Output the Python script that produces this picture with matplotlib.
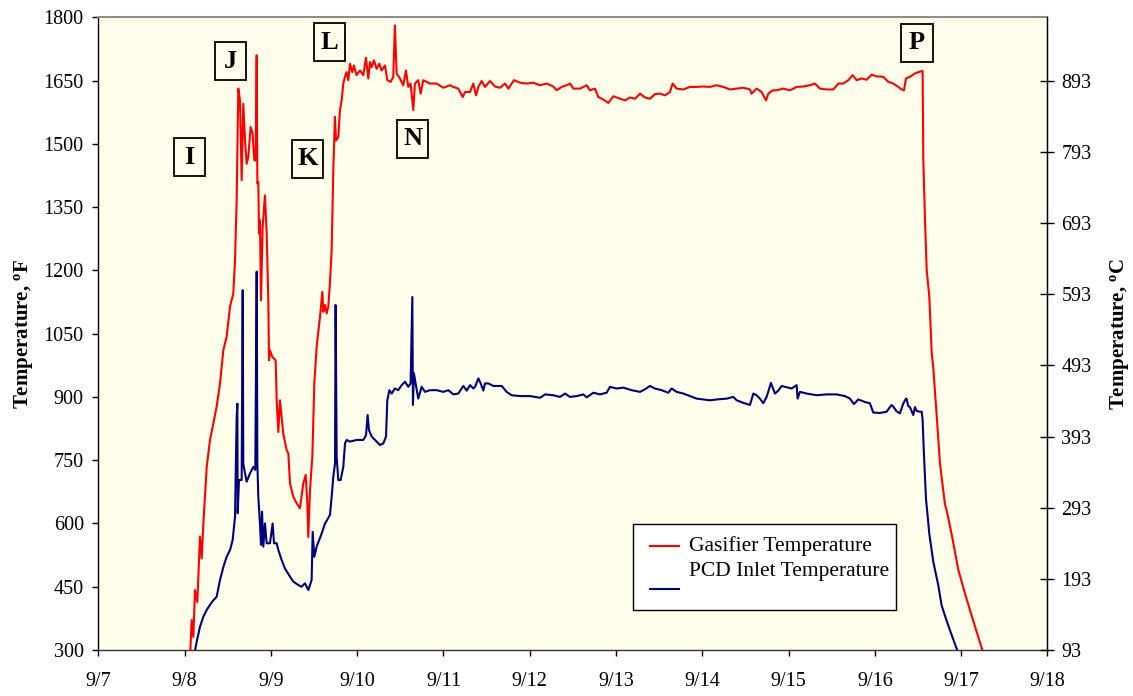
import matplotlib
matplotlib.use("Agg")
import matplotlib.pyplot as plt
from matplotlib.patches import Rectangle
from matplotlib.lines import Line2D

plt.rcParams['font.family'] = ['Liberation Serif', 'DejaVu Serif']
plt.rcParams['mathtext.fontset'] = 'custom'
plt.rcParams['mathtext.rm'] = 'Liberation Serif'
plt.rcParams['mathtext.bf'] = 'Liberation Serif:bold'
plt.rcParams['mathtext.it'] = 'Liberation Serif:italic'

# ---- data: day of September (decimal) and temperature in deg F ----
gasifier_day = [
    8.065, 8.082, 8.101, 8.120, 8.147, 8.178, 8.198, 8.217, 8.256, 8.294, 8.333,
    8.371, 8.410, 8.449, 8.487, 8.526, 8.564, 8.584, 8.603, 8.622, 8.642, 8.661,
    8.680, 8.700, 8.719, 8.738, 8.765, 8.788, 8.808, 8.823, 8.835, 8.843, 8.854,
    8.862, 8.873, 8.885, 8.904, 8.931, 8.951, 8.970, 8.978, 8.989, 9.016, 9.055,
    9.067, 9.086, 9.105, 9.143, 9.182, 9.202, 9.221, 9.260, 9.298, 9.337, 9.375,
    9.403, 9.422, 9.433, 9.453, 9.480, 9.503, 9.530, 9.569, 9.596, 9.607, 9.627,
    9.646, 9.665, 9.684, 9.704, 9.723, 9.742, 9.754, 9.781, 9.800, 9.820, 9.839,
    9.858, 9.877, 9.897, 9.916, 9.943, 9.962, 9.993, 10.032, 10.071, 10.102,
    10.129, 10.148, 10.167, 10.194, 10.225, 10.256, 10.283, 10.322, 10.349,
    10.388, 10.418, 10.437, 10.457, 10.495, 10.534, 10.565, 10.592, 10.619,
    10.650, 10.669, 10.708, 10.735, 10.766, 10.843, 10.921, 10.998, 11.075,
    11.114, 11.172, 11.223, 11.250, 11.308, 11.346, 11.377, 11.404, 11.443,
    11.481, 11.539, 11.597, 11.655, 11.713, 11.752, 11.817, 11.887, 11.964,
    12.041, 12.119, 12.196, 12.273, 12.312, 12.370, 12.428, 12.466, 12.505,
    12.582, 12.660, 12.698, 12.756, 12.795, 12.853, 12.911, 12.969, 13.046,
    13.104, 13.162, 13.220, 13.278, 13.335, 13.393, 13.451, 13.509, 13.567,
    13.625, 13.656, 13.702, 13.780, 13.857, 13.934, 14.011, 14.089, 14.166,
    14.243, 14.320, 14.398, 14.475, 14.552, 14.571, 14.629, 14.687, 14.738,
    14.765, 14.815, 14.861, 14.938, 15.016, 15.093, 15.170, 15.247, 15.305,
    15.363, 15.441, 15.518, 15.576, 15.634, 15.692, 15.742, 15.788, 15.846,
    15.904, 15.962, 16.020, 16.097, 16.155, 16.213, 16.271, 16.309, 16.337,
    16.360, 16.406, 16.464, 16.503, 16.553, 16.561, 16.580, 16.600, 16.631,
    16.658, 16.677, 16.716, 16.754, 16.812, 16.832, 16.889, 16.967, 17.044,
    17.140, 17.250,
]
gasifier_temp = [
    295, 371, 331, 442, 414, 569, 517, 600, 734, 798, 837,
    877, 932, 1011, 1043, 1114, 1145, 1224, 1366, 1631, 1603, 1414,
    1595, 1508, 1453, 1469, 1540, 1524, 1461, 1461, 1710, 1406, 1410,
    1287, 1319, 1129, 1303, 1378, 1287, 1129, 987, 1011, 995, 987,
    892, 817, 892, 813, 774, 766, 695, 663, 648, 636, 695,
    715, 648, 568, 679, 758, 932, 1019, 1090, 1149, 1102, 1118,
    1098, 1114, 1169, 1248, 1437, 1564, 1508, 1516, 1580, 1603, 1643,
    1659, 1670, 1651, 1690, 1670, 1686, 1663, 1674, 1663, 1704,
    1655, 1694, 1682, 1698, 1678, 1690, 1674, 1686, 1651,
    1647, 1659, 1781, 1667, 1655, 1639, 1674, 1635, 1643,
    1580, 1643, 1651, 1619, 1651, 1643, 1643, 1633, 1639,
    1635, 1631, 1611, 1623, 1623, 1643, 1615, 1635, 1649,
    1635, 1649, 1636, 1633, 1643, 1631, 1651, 1645, 1643,
    1645, 1639, 1643, 1636, 1627, 1635, 1639, 1643, 1631,
    1631, 1639, 1627, 1631, 1611, 1605, 1597, 1613, 1607,
    1603, 1610, 1607, 1619, 1610, 1607, 1618, 1619, 1615,
    1623, 1643, 1631, 1629, 1635, 1635, 1636, 1635, 1639,
    1635, 1629, 1631, 1633, 1629, 1619, 1631, 1623, 1603,
    1619, 1627, 1627, 1631, 1627, 1635, 1636, 1639, 1643,
    1631, 1629, 1629, 1643, 1643, 1651, 1663, 1651, 1655,
    1652, 1664, 1660, 1659, 1647, 1643, 1635, 1629, 1627,
    1655, 1659, 1667, 1670, 1673, 1464, 1324, 1202, 1137,
    1006, 968, 856, 743, 645, 631, 575, 490, 434,
    369, 297,
]

pcd_day = [
    8.120, 8.140, 8.178, 8.217, 8.256, 8.294, 8.333, 8.371, 8.410, 8.449, 8.487,
    8.526, 8.557, 8.584, 8.603, 8.611, 8.615, 8.630, 8.661, 8.673, 8.680, 8.700,
    8.719, 8.758, 8.796, 8.819, 8.835, 8.843, 8.854, 8.873, 8.885, 8.897, 8.912,
    8.931, 8.951, 8.989, 9.020, 9.036, 9.067, 9.086, 9.125, 9.163, 9.221, 9.260,
    9.318, 9.356, 9.395, 9.434, 9.472, 9.484, 9.503, 9.530, 9.588, 9.627, 9.684,
    9.704, 9.723, 9.743, 9.750, 9.762, 9.781, 9.808, 9.839, 9.859, 9.878, 9.916,
    9.993, 10.071, 10.102, 10.121, 10.137, 10.168, 10.225, 10.264, 10.303,
    10.334, 10.349, 10.373, 10.399, 10.438, 10.476, 10.515, 10.554, 10.592,
    10.619, 10.639, 10.646, 10.658, 10.677, 10.708, 10.747, 10.786, 10.843,
    10.921, 10.998, 11.056, 11.114, 11.172, 11.230, 11.269, 11.308, 11.346,
    11.366, 11.404, 11.431, 11.462, 11.481, 11.520, 11.578, 11.675, 11.732,
    11.790, 11.887, 12.003, 12.119, 12.177, 12.273, 12.351, 12.409, 12.466,
    12.543, 12.621, 12.660, 12.737, 12.814, 12.891, 12.930, 13.007, 13.085,
    13.181, 13.278, 13.335, 13.393, 13.451, 13.528, 13.606, 13.644, 13.702,
    13.780, 13.857, 13.934, 14.011, 14.089, 14.166, 14.282, 14.359, 14.398,
    14.475, 14.552, 14.591, 14.629, 14.668, 14.707, 14.745, 14.795, 14.842,
    14.880, 14.919, 14.977, 15.035, 15.093, 15.104, 15.131, 15.209, 15.325,
    15.440, 15.556, 15.653, 15.711, 15.757, 15.807, 15.885, 15.942, 15.981,
    16.059, 16.136, 16.193, 16.213, 16.251, 16.290, 16.328, 16.360, 16.367,
    16.387, 16.406, 16.445, 16.464, 16.484, 16.515, 16.542, 16.553, 16.569,
    16.592, 16.631, 16.677, 16.735, 16.773, 16.832, 16.889, 16.960,
]
pcd_temp = [
    298, 320, 355, 379, 395, 407, 418, 426, 466, 497, 521,
    537, 561, 616, 853, 884, 624, 703, 703, 1153, 742, 719,
    699, 719, 734, 727, 1197, 742, 663, 600, 549, 628, 545,
    600, 553, 553, 600, 553, 553, 537, 513, 493, 474, 462,
    454, 450, 458, 442, 466, 580, 521, 545, 576, 600, 620,
    663, 711, 742, 1118, 758, 703, 703, 734, 790, 798, 794,
    798, 798, 809, 857, 821, 806, 794, 786, 790,
    806, 892, 916, 908, 920, 916, 928, 936, 924,
    932, 1137, 881, 956, 932, 896, 924, 912, 916,
    916, 912, 916, 906, 908, 926, 915, 928, 920,
    924, 944, 932, 915, 932, 932, 926, 926, 912,
    904, 902, 902, 898, 906, 904, 900, 908, 900,
    902, 906, 899, 910, 906, 910, 924, 920, 922,
    916, 912, 918, 926, 920, 916, 910, 920, 912,
    908, 902, 896, 894, 892, 894, 896, 900, 892,
    886, 881, 908, 904, 896, 885, 900, 933, 908,
    915, 926, 923, 920, 928, 896, 912, 908, 904,
    906, 906, 902, 896, 883, 894, 888, 885, 863,
    862, 865, 881, 877, 866, 861, 884, 896, 896,
    878, 876, 857, 876, 867, 865, 865, 846, 762,
    659, 575, 509, 453, 406, 369, 336, 296,
]

tick_days = list(range(7, 19))
tick_labels = [f"9/{d}" for d in tick_days]
f_ticks = list(range(300, 1801, 150))
c_ticks = list(range(93, 894, 100))

event_labels = ["I", "J", "K", "L", "N", "P"]
event_days = [8.057, 8.536, 9.424, 9.679, 10.645, 16.488]
event_temps = [1468, 1696, 1465, 1741, 1512, 1740]

TICK_FS = 14.5

# ---- figure ----
fig = plt.figure(figsize=(11.33, 6.96), dpi=100)
fig.patch.set_facecolor('white')
ax = fig.add_axes([0.0868, 0.0661, 0.8377, 0.9090])
ax.set_facecolor('#FFFEEA')

ax.plot(gasifier_day, gasifier_temp, color='#FF0000', lw=1.5, zorder=3)
ax.plot(pcd_day, pcd_temp, color='#000080', lw=1.5, zorder=3)

ax.set_xlim(7, 18)
ax.set_ylim(300, 1800)
ax.set_xticks(tick_days)
ax.set_xticklabels(tick_labels)
ax.set_yticks(f_ticks)
ax.tick_params(axis='x', direction='out', length=4.5, width=1, labelsize=TICK_FS, pad=11)
ax.tick_params(axis='y', direction='out', length=4.5, width=1, labelsize=TICK_FS, pad=6)
ax.set_ylabel(r'Temperature, $^{\mathbf{o}}$F', fontsize=15, fontweight='bold', labelpad=6)

for side in ('left', 'bottom', 'right'):
    ax.spines[side].set_color('black')
    ax.spines[side].set_linewidth(1.0)
ax.spines['bottom'].set_color('#333333')
ax.spines['top'].set_color('#8C8C8C')
ax.spines['top'].set_linewidth(1.5)

# Celsius scale on the right
axr = ax.twinx()
axr.set_ylim(93, (1800 - 32) * 5 / 9)
axr.set_yticks(c_ticks)
axr.tick_params(axis='y', direction='inout', length=10, width=1, labelsize=TICK_FS, pad=5)
axr.set_ylabel(r'Temperature, $^{\mathbf{o}}$C', fontsize=15, fontweight='bold', labelpad=12)
for s in axr.spines.values():
    s.set_visible(False)
axr.spines['right'].set_visible(True)
axr.spines['right'].set_color('black')

# boxed event letters
box_w = 0.36   # days
box_h = 90     # deg F
for lab, d, t in zip(event_labels, event_days, event_temps):
    ax.add_patch(Rectangle((d - box_w / 2, t - box_h / 2), box_w, box_h,
                           facecolor='none', edgecolor='black', lw=1.3, zorder=4))
    ax.text(d, t, lab, ha='center', va='center', fontsize=19,
            fontweight='bold', zorder=5)

# legend box
ax.add_patch(Rectangle((0.5633, 0.0632), 0.2771, 0.1359, transform=ax.transAxes,
                       facecolor='white', edgecolor='black', lw=1.0, zorder=6))
ax.add_line(Line2D([0.5812, 0.6118], [0.1639, 0.1639], transform=ax.transAxes,
                   color='#FF0000', lw=1.5, zorder=7))
ax.add_line(Line2D([0.5812, 0.6118], [0.0964, 0.0964], transform=ax.transAxes,
                   color='#000080', lw=1.5, zorder=7))
ax.text(0.6223, 0.1639, 'Gasifier Temperature', transform=ax.transAxes,
        ha='left', va='center', fontsize=15.5, zorder=8)
ax.text(0.6223, 0.1233, 'PCD Inlet Temperature', transform=ax.transAxes,
        ha='left', va='center', fontsize=15.5, zorder=8)

fig.savefig('out.png', dpi=100)
